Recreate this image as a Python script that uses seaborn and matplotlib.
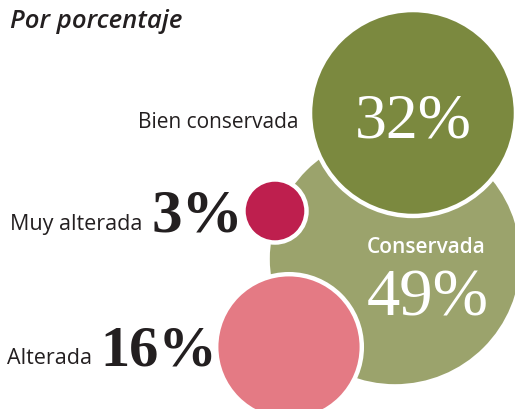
import matplotlib
matplotlib.use("Agg")
import matplotlib.pyplot as plt
import pandas as pd
import seaborn as sns

categorias = ["Conservada", "Bien conservada", "Muy alterada", "Alterada"]
porcentajes = [49, 32, 3, 16]
colores = ["#9ba36c", "#7b893f", "#be1f4e", "#e47a84"]

# layout of the bubbles, in pixels of the 515x409 canvas
centro_x = [395, 413, 275, 289]
centro_y = [259, 113, 211, 347]

K = 18.2  # radius in px per sqrt(percent)
PT = 0.72  # points per pixel at dpi 100


def _size(p):
    return (2 * K * p ** 0.5 * PT) ** 2


df = pd.DataFrame({"categoria": categorias, "pct": porcentajes, "x": centro_x, "y": centro_y})

sns.set_theme(style="white")
plt.rcParams["font.family"] = ["Open Sans", "DejaVu Sans"]

fig = plt.figure(figsize=(5.15, 4.09), dpi=100)
ax = fig.add_axes([0, 0, 1, 1])

sns.scatterplot(
    data=df, x="x", y="y", hue="categoria", palette=dict(zip(categorias, colores)),
    size="pct", sizes=(_size(min(porcentajes)), _size(max(porcentajes))),
    size_norm=(min(porcentajes), max(porcentajes)),
    edgecolor="white", linewidth=3.2, legend=False, ax=ax, zorder=2,
)

ax.set_xlim(0, 515)
ax.set_ylim(409, 0)
ax.set_axis_off()

oscuro = "#231f20"
serif = ["Liberation Serif", "DejaVu Serif"]

ax.text(10, 28, "Por porcentaje", fontsize=18.5, fontweight="semibold", fontstyle="italic",
        color=oscuro, va="baseline")

ax.text(299, 128, categorias[1], fontsize=15, color=oscuro, ha="right", va="baseline")
ax.text(413, 137, f"{porcentajes[1]}%", fontsize=46, color="white", ha="center",
        va="baseline", family=serif)

ax.text(426, 253, categorias[0], fontsize=15, fontweight="semibold", color="white",
        ha="center", va="baseline")
ax.text(428, 315, f"{porcentajes[0]}%", fontsize=48, color="white", ha="center",
        va="baseline", family=serif)

ax.text(142, 230, categorias[2], fontsize=15.5, color=oscuro, ha="right", va="baseline")
ax.text(152, 232, f"{porcentajes[2]}%", fontsize=44, fontweight="bold", color=oscuro,
        ha="left", va="baseline", family=serif)

ax.text(92, 364, categorias[3], fontsize=15.5, color=oscuro, ha="right", va="baseline")
ax.text(100, 365, f"{porcentajes[3]}%", fontsize=42, fontweight="bold", color=oscuro,
        ha="left", va="baseline", family=serif)

fig.savefig("out.png", dpi=100)
